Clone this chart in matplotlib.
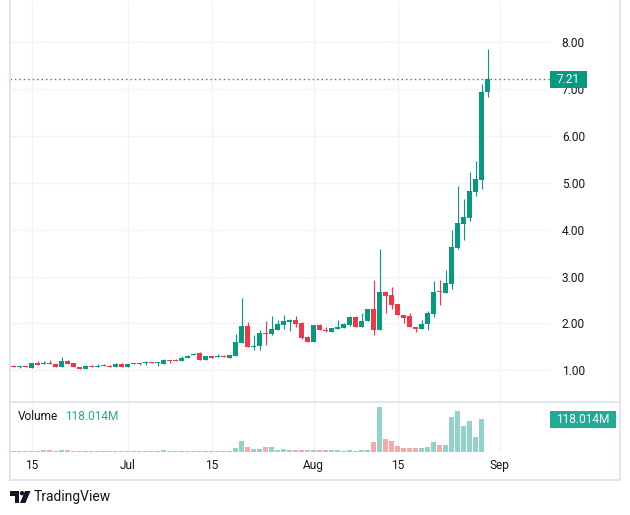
import numpy as np
import pandas as pd
import matplotlib
matplotlib.use('Agg')
import matplotlib.pyplot as plt
import matplotlib.dates as mdates
from matplotlib.patches import Rectangle, Polygon, Ellipse
from matplotlib.lines import Line2D

plt.rcParams['font.family'] = ['Roboto', 'DejaVu Sans']

W, H = 630, 515

dates = pd.date_range('2024-06-12', periods=80, freq='D')

opens = [1.10, 1.06, 1.08, 1.05, 1.16, 1.13, 1.15, 1.13, 1.07, 1.20,
         1.15, 1.08, 1.035, 1.10, 1.08, 1.11, 1.10, 1.08, 1.14, 1.08,
         1.15, 1.13, 1.155, 1.165, 1.155, 1.14, 1.22, 1.21, 1.19, 1.26,
         1.32, 1.37, 1.22, 1.30, 1.29, 1.31, 1.27, 1.31, 1.59, 1.95,
         1.50, 1.52, 1.80, 1.78, 1.87, 1.97, 2.04, 2.07, 2.01, 1.71,
         1.61, 1.97, 1.86, 1.82, 1.88, 1.91, 1.97, 2.14, 1.92, 2.05,
         2.31, 1.85, 2.67, 2.60, 2.41, 2.17, 2.15, 1.93, 1.89, 1.98,
         2.21, 2.70, 2.65, 2.85, 3.60, 4.12, 4.25, 4.81, 5.06, 6.94]
highs = [1.12, 1.10, 1.10, 1.16, 1.19, 1.20, 1.21, 1.13, 1.28, 1.21,
         1.15, 1.08, 1.11, 1.11, 1.13, 1.13, 1.12, 1.16, 1.16, 1.14,
         1.16, 1.16, 1.19, 1.17, 1.17, 1.25, 1.22, 1.24, 1.30, 1.32,
         1.37, 1.38, 1.31, 1.30, 1.35, 1.33, 1.33, 1.78, 2.54, 2.03,
         1.75, 1.85, 2.05, 2.15, 2.07, 2.17, 2.10, 2.15, 2.03, 1.73,
         1.97, 1.99, 1.92, 1.90, 2.07, 2.01, 2.16, 2.16, 2.22, 2.31,
         2.93, 3.59, 2.67, 2.77, 2.41, 2.17, 2.22, 1.93, 2.07, 2.27,
         2.91, 2.93, 3.14, 3.99, 4.93, 4.66, 5.23, 5.47, 7.11, 7.86]
lows = [1.08, 1.05, 1.06, 1.05, 1.11, 1.13, 1.13, 1.08, 1.07, 1.13,
        1.08, 1.035, 1.03, 1.08, 1.06, 1.10, 1.08, 1.08, 1.08, 1.08,
        1.13, 1.12, 1.12, 1.16, 1.10, 1.14, 1.16, 1.19, 1.19, 1.26,
        1.32, 1.22, 1.22, 1.26, 1.29, 1.29, 1.27, 1.31, 1.59, 1.50,
        1.43, 1.43, 1.55, 1.76, 1.87, 1.88, 1.83, 1.93, 1.67, 1.61,
        1.61, 1.85, 1.82, 1.82, 1.88, 1.91, 1.95, 1.92, 1.92, 2.05,
        1.76, 1.85, 2.23, 2.31, 2.17, 2.00, 1.93, 1.82, 1.89, 1.86,
        2.13, 2.39, 2.65, 2.73, 3.59, 3.77, 4.19, 4.71, 4.87, 6.84]
closes = [1.08, 1.08, 1.06, 1.16, 1.11, 1.15, 1.13, 1.08, 1.20, 1.13,
          1.08, 1.035, 1.09, 1.08, 1.10, 1.10, 1.08, 1.14, 1.08, 1.14,
          1.13, 1.16, 1.165, 1.16, 1.165, 1.23, 1.20, 1.19, 1.26, 1.305,
          1.35, 1.22, 1.31, 1.27, 1.31, 1.29, 1.33, 1.60, 1.95, 1.50,
          1.52, 1.80, 1.78, 1.88, 1.99, 2.05, 2.08, 1.99, 1.69, 1.61,
          1.97, 1.85, 1.84, 1.90, 1.92, 1.99, 2.14, 1.92, 2.05, 2.31,
          1.85, 2.68, 2.59, 2.39, 2.17, 2.12, 1.93, 1.89, 1.99, 2.22,
          2.67, 2.66, 2.86, 3.63, 4.14, 4.27, 4.83, 5.08, 6.94, 7.21]
# volume in millions, last day has no bar
volumes = [3, 3, 3, 3.5, 3, 6, 6, 3, 6, 6,
           3.5, 3, 3, 3, 3, 3, 3, 3, 3, 3,
           3, 3, 3, 3, 3, 6, 3, 3, 3, 3,
           3, 3, 3, 3, 3, 3, 4, 13.2, 38.5, 16.9,
           9.6, 9.6, 16.9, 16.9, 6.0, 9.6, 6.0, 6.0, 6.0, 6.0,
           6.0, 6.0, 6.0, 6.0, 6.0, 2.4, 6.0, 2.4, 6.0, 6.0,
           34.9, 161.4, 45.8, 38.5, 20.5, 13.2, 13.2, 13.2, 13.2, 16.9,
           34.9, 24.1, 24.1, 125.2, 146.9, 92.7, 110.8, 53.0, 118.014, np.nan]

price_ticks = [1, 2, 3, 4, 5, 6, 7, 8]
tick_dates = ['2024-06-15', '2024-07-01', '2024-07-15', '2024-08-01', '2024-08-15', '2024-09-01']
tick_labels = ['15', 'Jul', '15', 'Aug', '15', 'Sep']
last_price = 7.21
volume_text = '118.014M'

GREEN = '#089981'
RED = '#f23645'
TXT = '#131722'
GRID = '#f0f3fa'
BORDER = '#e0e3eb'


def fx(px):
    return px / W


def fy(py):
    return 1 - py / H


o = np.array(opens)
c = np.array(closes)
x = mdates.date2num(dates)
up = c >= o
colors = np.where(up, GREEN, RED)
vcolors = np.where(up, '#92d2cc', '#f7a9a7')

fig = plt.figure(figsize=(6.3, 5.15), dpi=100)
fig.patch.set_facecolor('white')

ax = fig.add_axes([fx(10), fy(401.5), fx(540), (401.5 - 1) / H])
axv = fig.add_axes([fx(10), fy(451.7), fx(540), (451.7 - 401.5) / H], sharex=ax)

ax.vlines(x, lows, highs, colors=colors, lw=0.8, zorder=2)
ax.bar(x, np.maximum(np.abs(c - o), 0.022), bottom=np.minimum(o, c), width=0.8,
       color=colors, lw=0, zorder=3)
ax.axhline(last_price, color=GREEN, ls=(0, (1, 2.2)), lw=1, zorder=4)

axv.bar(x, volumes, width=0.8, color=vcolors, lw=0, zorder=2)

ax.set_xlim(x[0] - 0.62, x[0] + 89.38)
ax.set_ylim(0.334, 8.88)
axv.set_ylim(0, 181)

tick_x = mdates.date2num(pd.to_datetime(tick_dates))
for a in (ax, axv):
    for s in a.spines.values():
        s.set_visible(False)
    a.set_xticks(tick_x)
    a.grid(axis='x', color=GRID, lw=1, zorder=0)

ax.set_yticks(price_ticks)
ax.set_yticklabels(['%.2f' % p for p in price_ticks])
ax.grid(axis='y', color=GRID, lw=1, zorder=0)
ax.tick_params(axis='y', labelleft=False, labelright=True, left=False, right=False,
               pad=5, labelsize=8.6, labelcolor=TXT)
ax.tick_params(axis='x', bottom=False, labelbottom=False)

axv.set_yticks([])
axv.set_xticklabels(tick_labels)
axv.tick_params(axis='x', length=0, pad=5.5, labelsize=8.6, labelcolor=TXT)

# last price and last volume tags
fig.add_artist(Rectangle((fx(550), fy(87.7)), 37 / W, 17 / H, transform=fig.transFigure,
                         color=GREEN, lw=0, zorder=5))
fig.text(fx(568.5), fy(79.2), '%.2f' % last_price, color='white', fontsize=8.6,
         ha='center', va='center', zorder=6)
fig.add_artist(Rectangle((fx(550), fy(427.7)), 65.7 / W, 16.7 / H, transform=fig.transFigure,
                         color='#22ab94', lw=0, zorder=5))
fig.text(fx(583), fy(419.3), volume_text, color='white', fontsize=8.6,
         ha='center', va='center', zorder=6)

fig.text(fx(18.3), fy(417), 'Volume', color=TXT, fontsize=8.6, ha='left', va='center')
fig.text(fx(65), fy(417), volume_text, color='#22ab94', fontsize=8.6, ha='left', va='center')

# widget frame and pane separator
for xs, ys in [((9.5, 9.5), (0, 479.5)), ((619.5, 619.5), (0, 479.5)),
               ((9.5, 619.5), (479.5, 479.5)), ((9.5, 619.5), (401.5, 401.5))]:
    fig.add_artist(Line2D([fx(v) for v in xs], [fy(v) for v in ys], color=BORDER, lw=1.3))

# TradingView logo
logo = '#131722'
fig.add_artist(Polygon([(fx(10), fy(491)), (fx(19), fy(491)), (fx(19), fy(503)),
                        (fx(15), fy(503)), (fx(15), fy(495.5)), (fx(10), fy(495.5))],
                       closed=True, transform=fig.transFigure, color=logo, lw=0))
fig.add_artist(Ellipse((fx(22), fy(493.2)), 4.4 / W, 4.4 / H, transform=fig.transFigure,
                       color=logo, lw=0))
fig.add_artist(Polygon([(fx(25), fy(491)), (fx(30.5), fy(491)), (fx(25.5), fy(503)),
                        (fx(20), fy(503))], closed=True, transform=fig.transFigure,
                       color=logo, lw=0))
fig.text(fx(33.5), fy(497), 'TradingView', color=TXT, fontsize=10, ha='left', va='center')

fig.savefig('out.png', dpi=100, facecolor='white')
